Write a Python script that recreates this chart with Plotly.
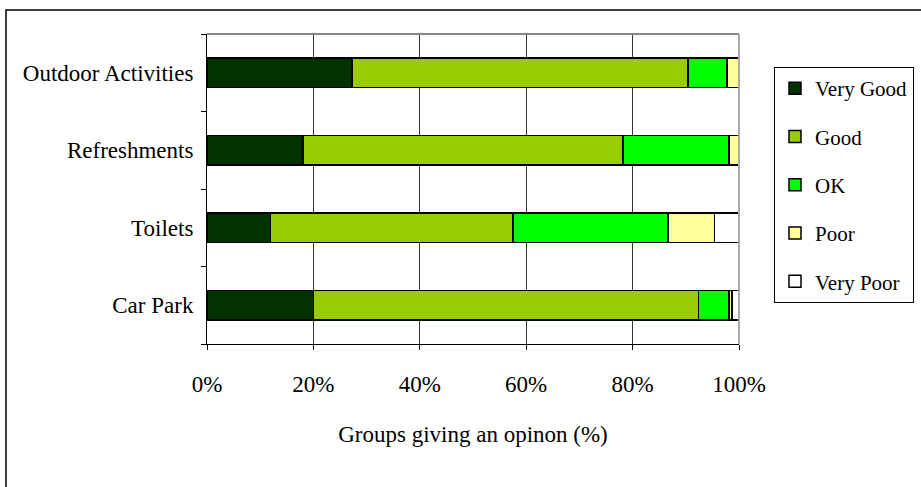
import plotly.graph_objects as go

categories = ["Car Park", "Toilets", "Refreshments", "Outdoor Activities"]
series_names = ["Very Good", "Good", "OK", "Poor", "Very Poor"]
very_good = [20.0, 11.9, 18.0, 27.3]
good = [72.4, 45.6, 60.2, 63.1]
ok = [5.7, 29.2, 19.9, 7.3]
poor = [0.6, 8.7, 1.9, 2.3]
very_poor = [1.3, 4.6, 0.0, 0.0]
colors = ["#003300", "#99CC00", "#00FF00", "#FFFF99", "#FFFFFF"]
x_ticks = [0, 20, 40, 60, 80, 100]
x_tick_labels = ["0%", "20%", "40%", "60%", "80%", "100%"]

FONT = "Liberation Serif, Times New Roman, serif"
FS = 23

fig = go.Figure()
for name, vals, col in zip(series_names, [very_good, good, ok, poor, very_poor], colors):
    fig.add_trace(go.Bar(
        y=categories, x=vals, name=name, orientation="h",
        marker=dict(color=col, line=dict(color="black", width=1.5)),
        legendgroup=name,
    ))

L, R, T, B = 207, 182, 34, 143
W, H = 921, 487
pw, ph = W - L - R, H - T - B

fig.update_layout(
    width=W, height=H,
    margin=dict(l=L, r=R, t=T, b=B, autoexpand=False),
    barmode="stack", bargap=0.62,
    paper_bgcolor="white", plot_bgcolor="white",
    font=dict(family=FONT, size=FS, color="black"),
    showlegend=True,
    legend=dict(
        x=(774 - L) / pw, y=(H - B - 67) / ph, xanchor="left", yanchor="top",
        bordercolor="black", borderwidth=1, bgcolor="white",
        font=dict(family=FONT, size=21, color="black"),
        traceorder="grouped", tracegroupgap=18, itemwidth=30,
    ),
    xaxis=dict(
        range=[0, 100], tickvals=x_ticks, ticktext=x_tick_labels,
        showgrid=True, gridcolor="#333333", gridwidth=1,
        showline=True, linecolor="black", linewidth=1,
        mirror=False, ticks="outside", ticklen=5, tickcolor="black",
        zeroline=False, ticklabelstandoff=14,
        title=dict(text="Groups giving an opinon (%)", standoff=30,
                   font=dict(family=FONT, size=FS)),
        tickfont=dict(family=FONT, size=FS),
    ),
    yaxis=dict(
        categoryorder="array", categoryarray=categories,
        showline=True, linecolor="black", linewidth=1,
        ticks="outside", tickson="boundaries", ticklen=5, tickcolor="black",
        showgrid=False, tickfont=dict(family=FONT, size=FS),
        ticklabelstandoff=8,
    ),
)

# plot-area border on top and right (gray)
fig.add_shape(type="line", xref="paper", yref="paper", x0=0, x1=1, y0=1, y1=1,
              line=dict(color="#888888", width=2))
fig.add_shape(type="line", xref="paper", yref="paper", x0=1, x1=1, y0=0, y1=1,
              line=dict(color="#aaaaaa", width=2))
# outer chart border
fig.add_shape(type="rect", xref="paper", yref="paper",
              x0=(6 - L) / pw, x1=(930 - L) / pw,
              y0=(H - B - 495) / ph, y1=(H - B - 10) / ph,
              line=dict(color="black", width=1.5), layer="below")

fig.write_html("out.html")
